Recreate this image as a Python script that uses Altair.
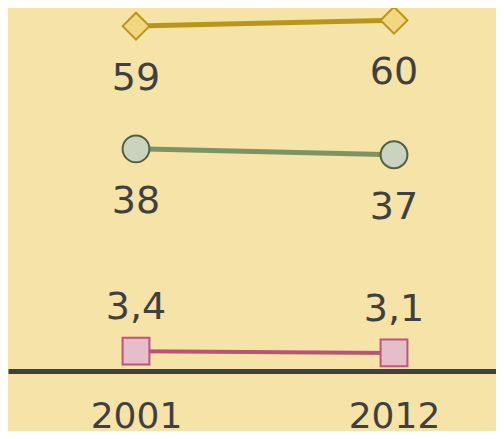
import altair as alt
import pandas as pd

years = [2001, 2012]
series = ["A", "B", "C"]
values_a = [59, 60]
values_b = [38, 37]
values_c = [3.4, 3.1]

shapes = {"A": "diamond", "B": "circle", "C": "square"}
line_colors = {"A": "#B8961A", "B": "#7A9462", "C": "#B55675"}
fill_colors = {"A": "#F2D780", "B": "#CBD3BF", "C": "#E5BDCB"}
stroke_colors = {"A": "#B8961A", "B": "#4E6142", "C": "#C0557A"}
label_dy = {"A": 53, "B": 53, "C": -43}


def fmt(v):
    s = f"{v:g}"
    return s.replace(".", ",")


rows = []
for s, vals in zip(series, [values_a, values_b, values_c]):
    for y, v in zip(years, vals):
        rows.append({"series": s, "year": y, "value": v, "label": fmt(v)})
df = pd.DataFrame(rows)

W, H = 488, 363
x_scale = alt.Scale(domain=[1995.543, 2016.349], nice=False, zero=False)
y_scale = alt.Scale(domain=[0, 62.1], nice=False, zero=True)

base = alt.Chart(df)

x_enc = alt.X(
    "year:Q",
    scale=x_scale,
    axis=alt.Axis(
        values=years,
        format="d",
        title=None,
        grid=False,
        ticks=False,
        labelFontSize=36,
        labelColor="#404040",
        labelFont="DejaVu Sans",
        labelPadding=28,
        domainColor="#404040",
        domainWidth=5,
        labelFlush=False,
    ),
)
y_enc = alt.Y("value:Q", scale=y_scale, axis=None)

layers = []
for s in series:
    sub = base.transform_filter(alt.datum.series == s)
    line = sub.mark_line(
        color=line_colors[s], strokeWidth=5 if s != "C" else 4
    ).encode(x=x_enc, y=y_enc)
    pts = sub.mark_point(
        shape=shapes[s],
        filled=True,
        fill=fill_colors[s],
        stroke=stroke_colors[s],
        strokeWidth=2,
        size=720,
        opacity=1,
    ).encode(x=x_enc, y=y_enc)
    txt = sub.mark_text(
        fontSize=38,
        font="DejaVu Sans",
        color="#404040",
        baseline="middle",
        align="center",
        dy=label_dy[s],
    ).encode(x=x_enc, y=y_enc, text="label:N")
    layers += [line, pts, txt]

chart = (
    alt.layer(*layers)
    .properties(
        width=W,
        height=H,
        background="#F5E3A8",
        autosize=alt.AutoSizeParams(type="none"),
        padding={"left": 0, "top": 0, "right": 0, "bottom": 60},
    )
    .configure_view(stroke=None)
)

chart.save("out.html", embed_options={"renderer": "svg", "actions": False})
